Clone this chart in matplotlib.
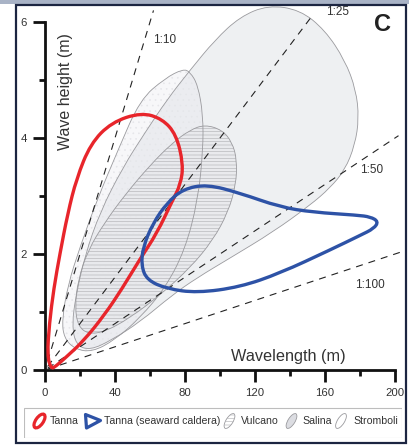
import numpy as np
import matplotlib
matplotlib.use("Agg")
import matplotlib.pyplot as plt
from matplotlib.path import Path
from matplotlib.patches import PathPatch, Rectangle, Ellipse, Polygon

plt.rcParams['font.family'] = ['Liberation Sans', 'DejaVu Sans']
plt.rcParams['hatch.linewidth'] = 0.45

# Field outlines: wavelength L (m), wave height H (m)
tanna_L = [3.5, 1.3, 2.5, 5, 8.5, 13, 18, 26, 38, 55, 67, 75, 79, 77.5, 72.5, 64, 54, 44, 34, 22, 12, 6]
tanna_H = [0.02, 0.25, 0.8, 1.4, 2.0, 2.7, 3.3, 3.9, 4.27, 4.44, 4.33, 4.06, 3.55, 3.2, 2.9, 2.36, 1.9, 1.4, 0.95, 0.5, 0.22, 0.06]

seaward_L = [92.6, 111.4, 134.3, 153.1, 178.3, 186, 190.5, 188, 180, 162.9, 134.3, 111.4, 86.9, 69.7, 58.3, 55.0, 56, 61.7, 69.7, 78.9]
seaward_H = [3.2, 3.05, 2.81, 2.72, 2.67, 2.64, 2.56, 2.44, 2.32, 2.07, 1.67, 1.43, 1.33, 1.40, 1.55, 1.80, 2.12, 2.53, 2.88, 3.12]

salina_L = [127.4, 145.7, 160, 171.4, 177.7, 179.4, 177.1, 171.4, 162.9, 151.4, 130.3, 105.7, 86.9, 72.6, 54.3, 38.3,
            25.7, 17.7, 15.4, 17.7, 22.9, 31.4, 44.6, 57.1, 69.7, 82.9, 97.1, 111.4]
salina_H = [6.29, 6.21, 5.86, 5.34, 4.83, 4.34, 3.88, 3.45, 3.14, 2.84, 2.38, 1.93, 1.59, 1.29, 0.83, 0.52,
            0.34, 0.43, 0.78, 1.29, 1.98, 2.72, 3.50, 4.09, 4.66, 5.17, 5.69, 6.09]

stromboli_L = [78.9, 68.6, 54.3, 41.7, 29.7, 20, 13.1, 9.7, 10.9, 17.1, 26.9, 40, 54.3, 68.6, 80, 87.4, 90.3, 90.3, 87.4, 82.9]
stromboli_H = [5.19, 5.03, 4.66, 3.79, 2.93, 2.12, 1.47, 0.86, 0.55, 0.36, 0.31, 0.52, 0.90, 1.41, 2.07, 2.93, 3.79, 4.40, 4.91, 5.14]

vulcano_L = [91.4, 101.1, 106.9, 109.7, 109.1, 104.6, 96, 82.9, 65.7, 48.6, 34.3, 24.6, 18.9, 17.1, 18.9, 24.6, 34.3,
             45.7, 60, 72.6, 82.9]
vulcano_H = [4.23, 4.14, 3.93, 3.62, 3.19, 2.72, 2.24, 1.76, 1.29, 0.90, 0.66, 0.62, 0.76, 1.09, 1.55, 2.07, 2.55,
             3.02, 3.53, 3.91, 4.14]

# slope lines H = L / ratio
ratios = [10, 25, 50, 100]
ratio_labels = ['1:10', '1:25', '1:50', '1:100']


def smooth_closed(xs, ys):
    pts = np.column_stack([xs, ys])
    mids = (pts + np.roll(pts, -1, axis=0)) / 2
    verts = [mids[-1]]
    codes = [Path.MOVETO]
    for i in range(len(pts)):
        verts += [pts[i], mids[i]]
        codes += [Path.CURVE3, Path.CURVE3]
    verts.append(mids[-1])
    codes.append(Path.CLOSEPOLY)
    return Path(verts, codes)


W, H = 409, 446
fig = plt.figure(figsize=(W / 100, H / 100), dpi=100)

# axes placed so that L=0 -> x px 45, L=200 -> 395 ; H=0 -> y px 370, H=6 -> 22
ax = fig.add_axes([16 / W, 1 - 386 / H, 390 / W, 381 / H])
ax.set_xlim((16 - 45) / 1.75, (406 - 45) / 1.75)
ax.set_ylim((370 - 386) / 58, (370 - 5) / 58)
ax.patch.set_visible(False)

# fields
ax.add_patch(PathPatch(smooth_closed(stromboli_L, stromboli_H), fc='#f7f7f9', ec='none', zorder=1))
ax.add_patch(PathPatch(smooth_closed(stromboli_L, stromboli_H), fc='none', ec='#e6e6ea', lw=0, hatch='...', zorder=1.1))
ax.add_patch(PathPatch(smooth_closed(salina_L, salina_H), fc='#e4e6ea', ec='none', alpha=0.6, zorder=1.2))
ax.add_patch(PathPatch(smooth_closed(vulcano_L, vulcano_H), fc='#e8e8ec', ec='none', alpha=0.7, zorder=1.3))
ax.add_patch(PathPatch(smooth_closed(vulcano_L, vulcano_H), fc='none', ec='#b4b4b8', lw=0, hatch='-----', zorder=1.4))
for xs, ys in [(stromboli_L, stromboli_H), (salina_L, salina_H), (vulcano_L, vulcano_H)]:
    ax.add_patch(PathPatch(smooth_closed(xs, ys), fc='none', ec='#9a9a9e', lw=0.6, zorder=1.5))

# slope lines
line_end = [62, 153, 202, 203]
for r, lmax in zip(ratios, line_end):
    xs = np.array([1.5, lmax])
    ax.plot(xs, xs / r, color='#222222', lw=0.8, dashes=(6.3, 5.4), zorder=2)
label_pos = [(68.6, 5.69), (166.9, 6.17), (186.9, 3.45), (185.7, 1.47)]
for lab, (x, y) in zip(ratio_labels, label_pos):
    ax.text(x, y, lab, fontsize=8.5, color='#333333', ha='center', va='center', zorder=3)

# Tanna fields
ax.add_patch(PathPatch(smooth_closed(tanna_L, tanna_H), fc='none', ec='#e8252b', lw=2.4, zorder=4))
ax.add_patch(PathPatch(smooth_closed(seaward_L, seaward_H), fc='none', ec='#2d52a6', lw=2.4, zorder=4))

# axes styling
for s in ['top', 'right']:
    ax.spines[s].set_visible(False)
ax.spines['left'].set_position(('data', 0))
ax.spines['bottom'].set_position(('data', 0))
ax.spines['left'].set_bounds(0, 6)
ax.spines['bottom'].set_bounds(0, 200)
for s in ['left', 'bottom']:
    ax.spines[s].set_linewidth(2)
    ax.spines[s].set_color('#111111')
ax.set_xticks([0, 40, 80, 120, 160, 200])
ax.set_xticks([20, 60, 100, 140, 180], minor=True)
ax.set_yticks([0, 2, 4, 6])
ax.set_yticks([1, 3, 5], minor=True)
ax.tick_params(which='major', length=8.5, width=2, color='#111111', labelsize=8.2, labelcolor='#333333', pad=4.5)
ax.tick_params(which='minor', length=4.5, width=2, color='#111111')
ax.text((65.5 - 45) / 1.75, (370 - 92) / 58, 'Wave height (m)', rotation=90, fontsize=11.5,
        color='#333333', ha='center', va='center')
ax.text((288 - 45) / 1.75, (370 - 356) / 58, 'Wavelength (m)', fontsize=11.7,
        color='#333333', ha='center', va='center')
ax.text((383 - 45) / 1.75, (370 - 25) / 58, 'C', fontsize=17, fontweight='bold', color='#222222',
        ha='center', va='center')

# legend drawn in pixel units
lg = fig.add_axes([24 / W, 1 - 438 / H, 378 / W, 31 / H])
lg.set_xlim(24, 402)
lg.set_ylim(438, 407)
lg.axis('off')
lg.add_patch(Rectangle((24.5, 407.5), 377, 30, fc='white', ec='#bdbdbd', lw=0.8))
lg.add_patch(Ellipse((39.5, 421), 16, 7.5, angle=-55, fc='none', ec='#e8252b', lw=2.3))
lg.add_patch(Polygon([(85.5, 414.5), (100.5, 420.5), (86.5, 428)], closed=True, fc='none', ec='#2d52a6',
                     lw=2.3, joinstyle='round'))
leaf_x = [229.5, 291.5, 341]
leaf_fc = ['white', '#dcdde2', 'white']
leaf_hatch = ['-----', None, None]
for x, fc, hatch in zip(leaf_x, leaf_fc, leaf_hatch):
    lg.add_patch(Ellipse((x, 421), 17, 7, angle=-58, fc=fc, ec='#9a9a9e', lw=0.6))
    if hatch:
        lg.add_patch(Ellipse((x, 421), 17, 7, angle=-58, fc='none', ec='#b4b4b8', lw=0, hatch=hatch))
leg_text = [(50, 'Tanna'), (104, 'Tanna (seaward caldera)'), (241, 'Vulcano'), (302, 'Salina'), (353, 'Stromboli')]
for x, t in leg_text:
    lg.text(x, 421.5, t, fontsize=7.6, color='#333333', ha='left', va='center')

# frame around the panel
fig.add_artist(Rectangle((0, 1 - 3.5 / H), 1, 3.5 / H, transform=fig.transFigure, fc='#a9b3c6', ec='none'))
fig.add_artist(Rectangle((16 / W, 1 - 442.5 / H), 390 / W, 437.5 / H, transform=fig.transFigure,
                         fc='none', ec='#1c2541', lw=1.6))

fig.savefig('out.png', dpi=100)
